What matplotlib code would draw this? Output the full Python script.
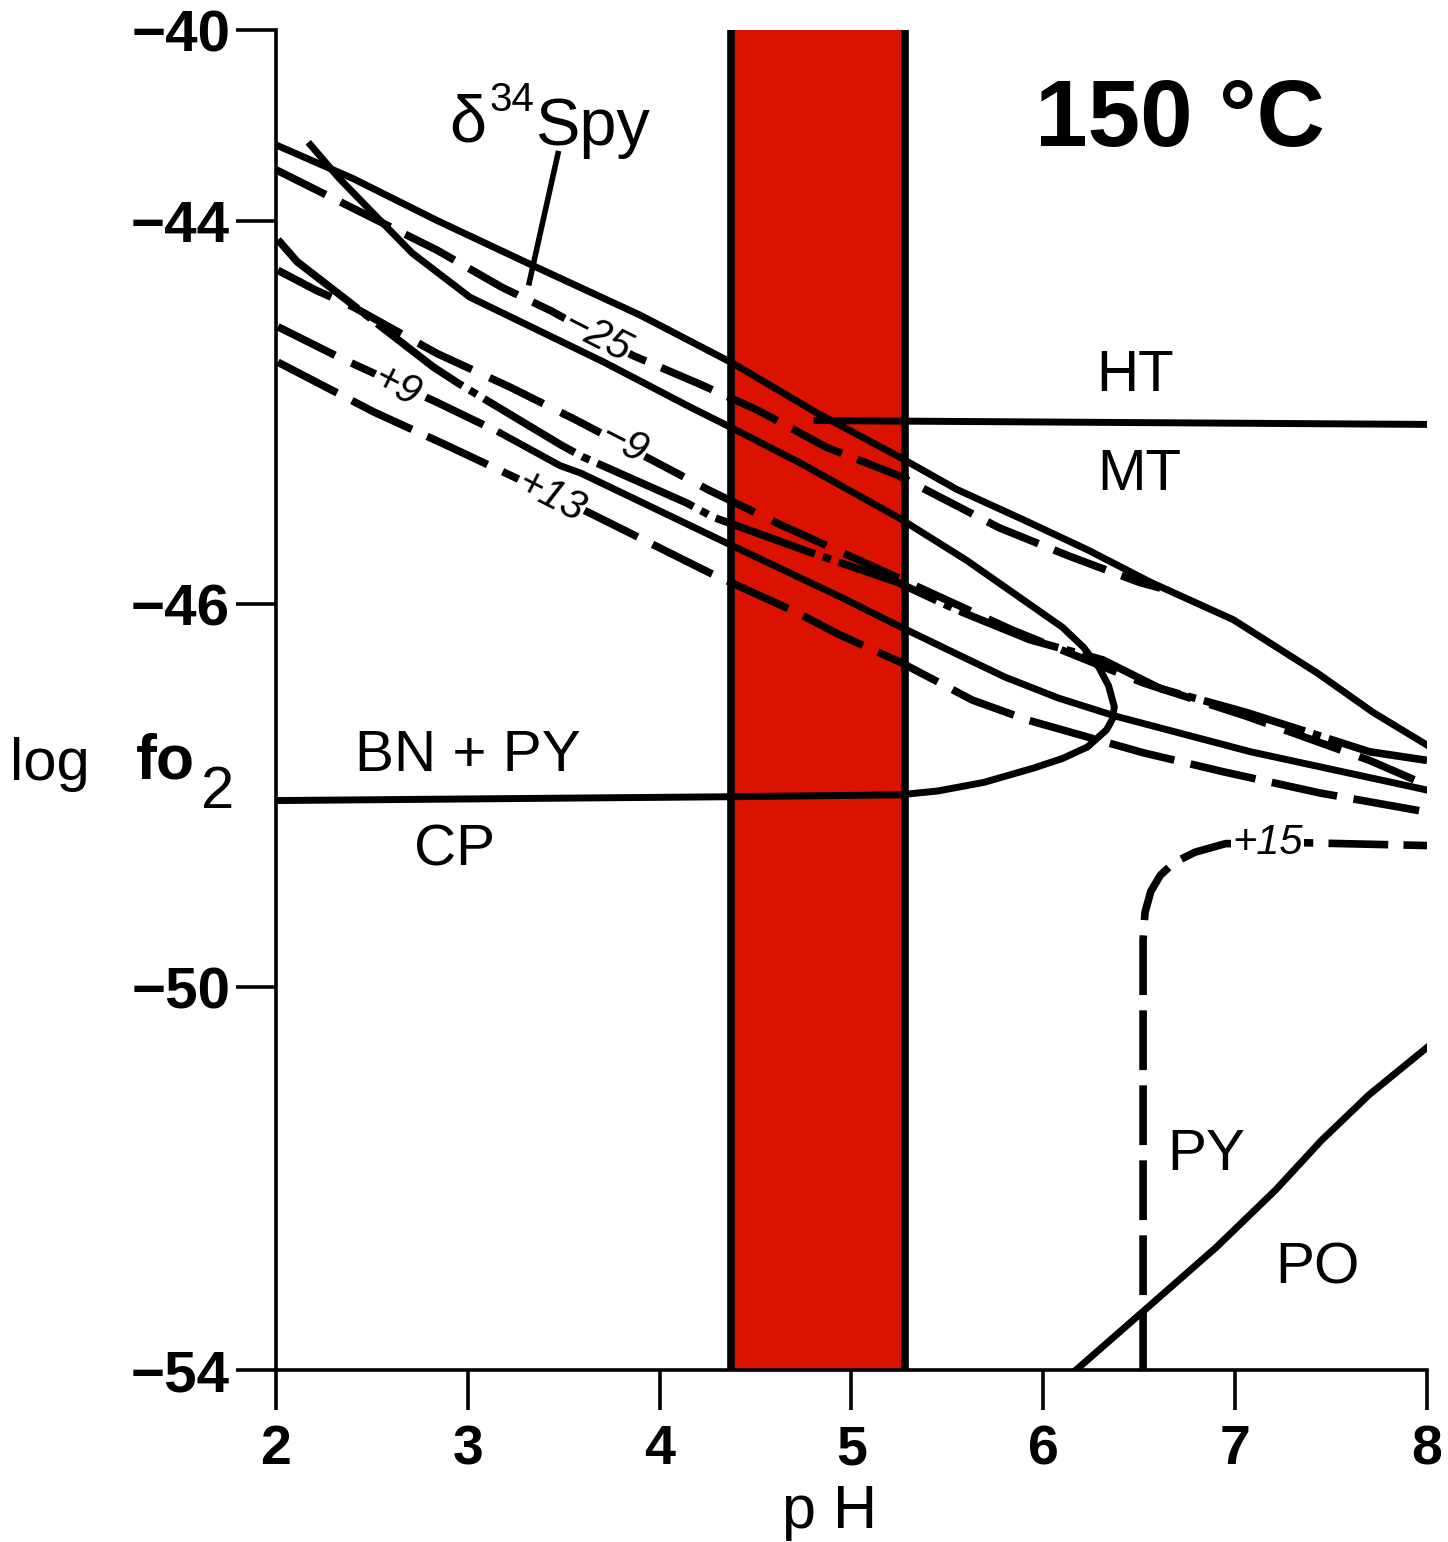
import matplotlib
matplotlib.use("Agg")
from matplotlib import pyplot as plt

plt.rcParams['font.family'] = ['Liberation Sans', 'DejaVu Sans']
plt.rcParams['lines.scale_dashes'] = False

#==============================================================================
#                      Data (pH, log fO2)
#==============================================================================

# upper solid boundary
upper_ph = [2.0, 2.40, 2.84, 3.36, 3.90, 4.38, 4.82, 5.24, 5.55, 5.90, 6.23, 6.56, 6.99, 7.43, 7.72, 8.0]
upper_lf = [-41.20, -41.55, -41.99, -42.48, -42.98, -43.48, -44.00, -44.45, -44.80, -45.12, -45.43,
            -45.77, -46.16, -46.72, -47.13, -47.47]

# d34S = -25 isopleth (dashed)
m25_ph = [2.0, 2.39, 2.84, 3.18, 3.43, 3.86, 4.21, 4.51, 4.87, 5.24, 5.77, 6.14, 6.50, 6.61]
m25_lf = [-41.46, -41.85, -42.30, -42.69, -42.93, -43.40, -43.70, -43.97, -44.36, -44.65,
          -45.20, -45.50, -45.77, -45.83]

# steep solid line that loops back into the BN+PY / CP boundary
loop_ph = [2.18, 2.33, 2.49, 2.71, 3.01, 3.36, 3.71, 4.16, 4.35, 4.73, 5.25, 5.60, 5.95, 6.10,
           6.21, 6.29, 6.34, 6.37, 6.36, 6.33, 6.23, 6.10, 5.95, 5.69, 5.45, 5.25, 4.37, 2.0]
loop_lf = [-41.20, -41.55, -41.88, -42.33, -42.79, -43.13, -43.47, -43.94, -44.13, -44.52,
           -45.10, -45.54, -46.03, -46.24, -46.45, -46.66, -46.85, -47.07, -47.20, -47.31,
           -47.49, -47.61, -47.71, -47.86, -47.95, -47.99, -48.01, -48.05]

# dash-dot line
dd_ph = [2.01, 2.11, 2.82, 2.95, 3.49, 3.60, 4.14, 4.28, 4.79, 5.24, 5.55, 5.93, 6.31, 6.61,
         7.06, 7.70, 8.0]
dd_lf = [-42.19, -42.42, -43.52, -43.69, -44.34, -44.46, -44.94, -45.09, -45.46, -45.77,
         -46.06, -46.37, -46.58, -46.88, -47.13, -47.54, -47.63]

# d34S = -9 isopleth
m9_ph = [2.01, 2.21, 2.40, 2.84, 3.22, 3.57, 4.26, 4.61, 5.24, 5.84, 6.52, 7.06, 7.70, 8.0]
m9_lf = [-42.51, -42.72, -42.89, -43.38, -43.73, -44.08, -44.81, -45.15, -45.72, -46.27,
         -46.82, -47.17, -47.63, -47.89]

# d34S = +9 isopleth (dashed part) and the solid line it runs into
p9_ph = [2.01, 2.33, 2.84, 3.17]
p9_lf = [-43.10, -43.42, -43.89, -44.21]
lower_ph = [3.17, 3.48, 3.59, 4.35, 4.94, 5.26, 5.55, 5.80, 6.08, 6.38, 7.08, 8.0]
lower_lf = [-44.21, -44.55, -44.63, -45.36, -45.92, -46.24, -46.52, -46.76, -46.98, -47.17,
            -47.54, -47.94]

# d34S = +13 isopleth
p13_ph = [2.01, 2.51, 2.87, 3.22, 3.64, 4.26, 4.72, 4.94, 5.26, 5.63, 5.92, 6.52, 6.94, 7.44, 8.0]
p13_lf = [-43.47, -43.99, -44.32, -44.65, -45.05, -45.67, -46.09, -46.32, -46.61, -47.00,
          -47.21, -47.55, -47.75, -47.97, -48.17]

# d34S = +15 isopleth
p15_ph = [6.52, 6.52, 6.53, 6.56, 6.61, 6.68, 6.79, 6.95, 7.34, 8.0]
p15_lf = [-54.0, -49.51, -49.22, -49.00, -48.83, -48.70, -48.59, -48.50, -48.49, -48.52]

# HT / MT boundary
htmt_ph = [4.82, 8.0]
htmt_lf = [-44.08, -44.12]

# PY / PO boundary
pypo_ph = [6.17, 6.53, 6.90, 7.21, 7.45, 7.70, 8.0]
pypo_lf = [-54.0, -53.37, -52.72, -52.12, -51.60, -51.12, -50.63]

# leader line from the d34S label
lead_ph = [3.47, 3.32]
lead_lf = [-41.29, -42.64]

# pH range of the red band
band = [4.37, 5.28]

yticks = [-40, -42, -46, -50, -54]
ytick_labels = ['\u221240', '\u221244', '\u221246', '\u221250', '\u221254']
xticks = [2, 3, 4, 5, 6, 7, 8]

#==============================================================================
#                                Plot
#==============================================================================

fig = plt.figure(figsize=(14.48, 15.42), dpi=100)
ax = fig.add_axes([0.1906, 0.1115, 0.7949, 0.8690])

ax.axvspan(band[0], band[1], color='#dc1200', lw=0, zorder=0)
for b in band:
    ax.axvline(b, color='black', lw=5.5, zorder=5)

k = 'black'
ax.plot(upper_ph, upper_lf, color=k, lw=5, zorder=4)
ax.plot(m25_ph, m25_lf, color=k, lw=5.5, dashes=(40, 12), zorder=3)
ax.plot(loop_ph, loop_lf, color=k, lw=5, zorder=4)
ax.plot(dd_ph, dd_lf, color=k, lw=5.5, dashes=(76, 6, 6, 6), zorder=3)
ax.plot(m9_ph, m9_lf, color=k, lw=5.5, dashes=(43, 14), zorder=3)
ax.plot(p9_ph, p9_lf, color=k, lw=5.5, dashes=(46, 13), zorder=3)
ax.plot(lower_ph, lower_lf, color=k, lw=5, zorder=4)
ax.plot(p13_ph, p13_lf, color=k, lw=5.5, dashes=(48, 12), zorder=3)
ax.plot(p15_ph, p15_lf, color=k, lw=5.5, dashes=(43, 11), zorder=3)
ax.plot(htmt_ph, htmt_lf, color=k, lw=5, zorder=4)
ax.plot(pypo_ph, pypo_lf, color=k, lw=5, zorder=4)
ax.plot(lead_ph, lead_lf, color=k, lw=4, zorder=4)

# isopleth labels
box = dict(facecolor='white', edgecolor='none', pad=1)
iso = [('\u221225', 3.67, -43.21, -27), ('\u22129', 3.81, -44.32, -27),
       ('+9', 2.63, -43.73, -27), ('+13', 3.43, -44.88, -27), ('+15', 7.17, -48.49, 0)]
for s, x, y, r in iso:
    ax.text(x, y, s, fontsize=30, style='italic', rotation=r, rotation_mode='anchor',
            ha='center', va='center', bbox=box, zorder=3.5)

# field labels
for s, x, y in [('HT', 6.48, -43.61), ('MT', 6.50, -44.65), ('BN + PY', 3.00, -47.58),
                ('CP', 2.93, -48.57), ('PY', 6.85, -51.75), ('PO', 7.43, -52.94)]:
    ax.text(x, y, s, fontsize=42, ha='center', va='center', zorder=6)

ax.text(6.71, -40.96, '150 \u00b0C', fontsize=68, fontweight='bold', ha='center', va='center')
ax.text(3.00, -40.99, '\u03b4', fontsize=48, ha='center', va='center')
ax.text(3.23, -40.73, '34', fontsize=29, ha='center', va='center')
ax.text(3.65, -41.02, 'Spy', fontsize=48, ha='center', va='center')

#Title, axis labels
fig.text(0.0345, 0.504, 'log', fontsize=43, ha='center', va='center')
fig.text(0.114, 0.506, 'fo', fontsize=45, fontweight='bold', ha='center', va='center')
fig.text(0.150, 0.486, '2', fontsize=43, ha='center', va='center')
fig.text(0.573, 0.019, 'p H', fontsize=44, ha='center', va='center')

ax.set_xlim(2, 8)
ax.set_ylim(-54, -40)
ax.set_xticks(xticks)
ax.set_xticklabels([str(t) for t in xticks], fontsize=40, fontweight='bold')
ax.set_yticks(yticks)
ax.set_yticklabels(ytick_labels, fontsize=42, fontweight='bold')
ax.tick_params(axis='y', length=29, width=2.6, pad=4)
ax.tick_params(axis='x', length=29, width=2.6, pad=10)
for side in ['top', 'right']:
    ax.spines[side].set_visible(False)
for side in ['left', 'bottom']:
    ax.spines[side].set_linewidth(2.6)

fig.savefig('out.png', dpi=100)
